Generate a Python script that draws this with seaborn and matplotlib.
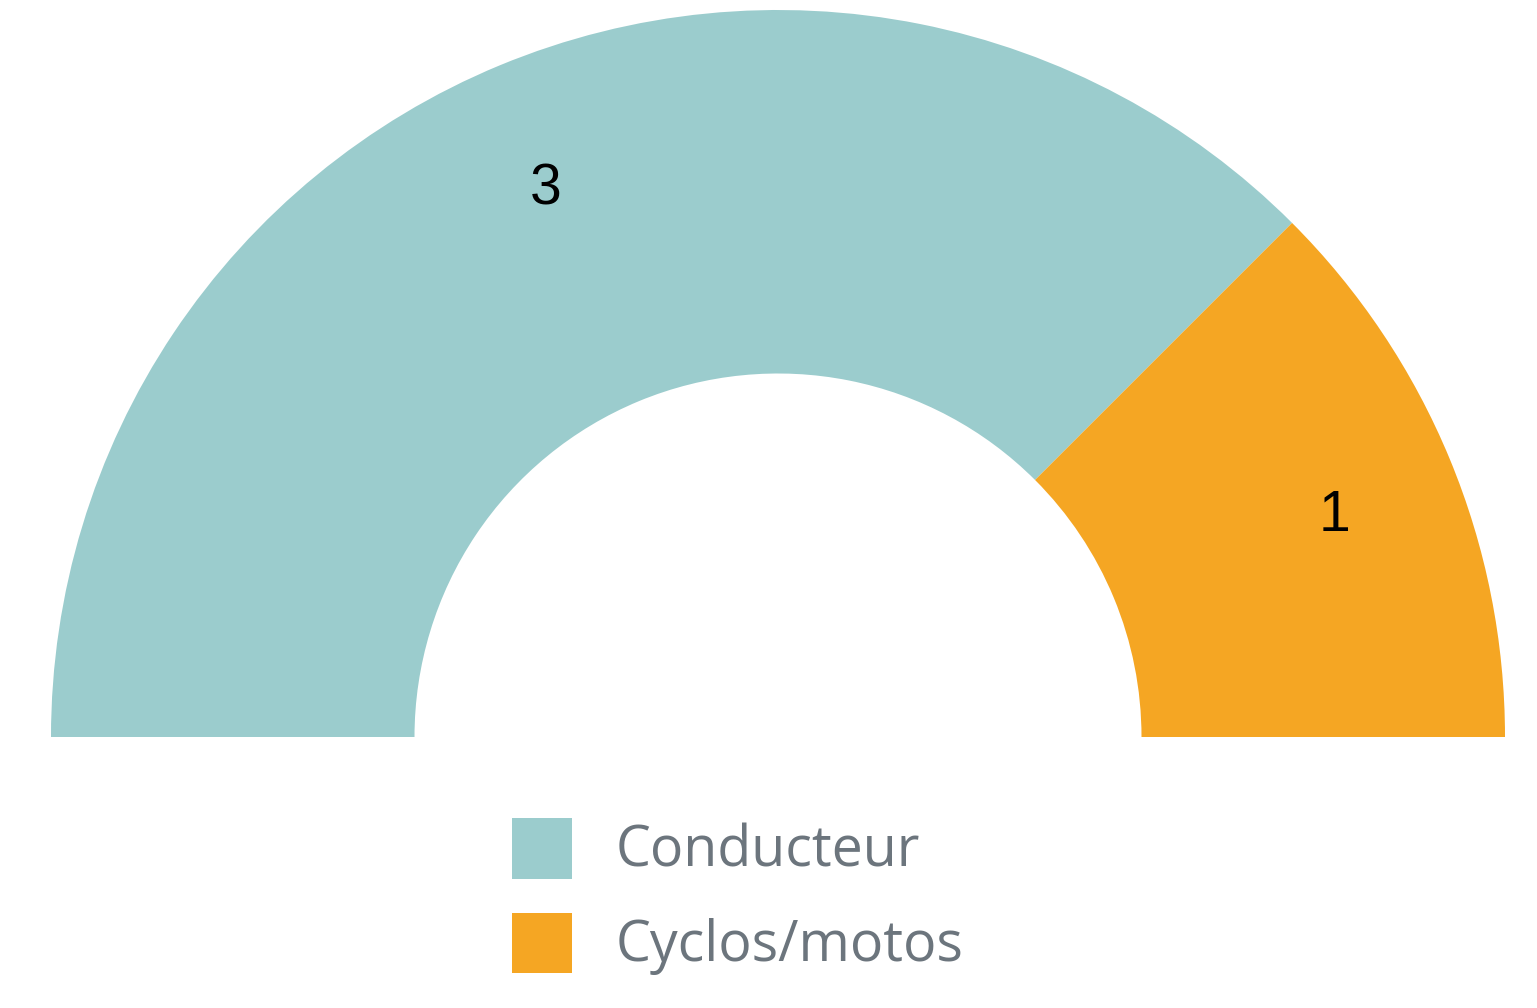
import numpy as np
import seaborn as sns
import matplotlib.pyplot as plt
from matplotlib.patches import Patch

categories = ["Conducteur", "Cyclos/motos"]
values = [3, 1]
colors = ["#9bcccd", "#f5a623"]

sns.set_theme(style="white")
plt.rcParams['font.family'] = ['Liberation Sans', 'DejaVu Sans']

fig = plt.figure(figsize=(15.37, 10.08), dpi=100)
ax = fig.add_axes([0, 0, 1, 1])

# half donut: hidden wedge takes the lower half
R = 727
cx, cy = 778, 1008 - 737
wedges, _ = ax.pie(values + [sum(values)], colors=colors + ["none"],
                   startangle=180, counterclock=False, radius=R, center=(cx, cy),
                   wedgeprops=dict(width=R * 0.5, edgecolor="none"), frame=True)

for w, v in zip(wedges[:2], values):
    mid = np.deg2rad((w.theta1 + w.theta2) / 2)
    r = R * 0.83
    ax.text(cx + r * np.cos(mid) - 1, cy + r * np.sin(mid) - 10, str(v),
            ha="center", va="center", fontsize=41, color="black")

ax.set_xlim(0, 1537)
ax.set_ylim(0, 1008)
ax.set_aspect("equal")
ax.axis("off")

handles = [Patch(facecolor=c, edgecolor="none") for c in colors]
leg = ax.legend(handles, categories, loc="upper left",
                bbox_to_anchor=(512 / 1537, 1 - 818 / 1008), bbox_transform=fig.transFigure,
                frameon=False, handlelength=1.08, handleheight=1.3,
                handletextpad=0.78, labelspacing=0.57, borderpad=0, borderaxespad=0,
                prop={"family": "Open Sans", "size": 40})
for t in leg.get_texts():
    t.set_color("#6c757d")

fig.savefig("out.png", dpi=100)
